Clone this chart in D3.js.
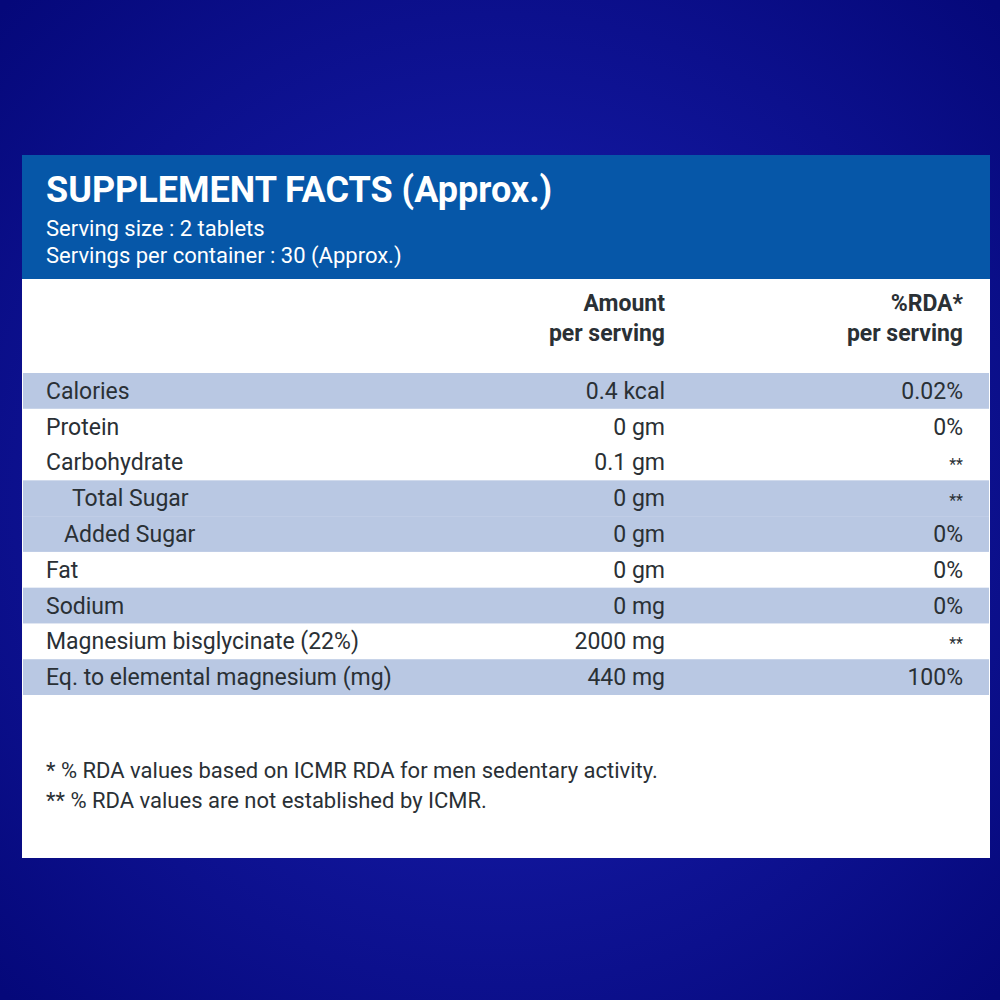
<!DOCTYPE html><html><head><meta charset="utf-8"><script src="https://cdn.jsdelivr.net/npm/d3@7"></script>
<style>body{margin:0}svg{display:block}</style></head><body><script>
const nutrients=["Calories","Protein","Carbohydrate","Total Sugar","Added Sugar","Fat","Sodium","Magnesium bisglycinate (22%)","Eq. to elemental magnesium (mg)"];
const amounts=["0.4 kcal","0 gm","0.1 gm","0 gm","0 gm","0 gm","0 mg","2000 mg","440 mg"];
const rda=["0.02%","0%","**","**","0%","0%","0%","**","100%"];
const indent=[0,0,0,26,18,0,0,0,0];
const shaded=[1,0,0,1,1,0,1,0,1];
const notes=["* % RDA values based on ICMR RDA for men sedentary activity.","** % RDA values are not established by ICMR."];
const W=1000,H=1000;
const svg=d3.select("body").append("svg").attr("width",W).attr("height",H);
const defs=svg.append("defs");
const g=defs.append("radialGradient").attr("id","bg").attr("cx","50%").attr("cy","50%").attr("r","70%");
g.append("stop").attr("offset","0%").attr("stop-color","#1c22b8");
g.append("stop").attr("offset","100%").attr("stop-color","#05087a");
svg.append("rect").attr("width",W).attr("height",H).attr("fill","url(#bg)");
svg.append("rect").attr("x",22).attr("y",155).attr("width",968).attr("height",703).attr("fill","#fff");
svg.append("rect").attr("x",22).attr("y",155).attr("width",968).attr("height",124).attr("fill","#0657a8");
const F="Roboto, 'Liberation Sans', sans-serif";
svg.append("text").attr("x",46).attr("y",202).attr("font-family",F).attr("font-weight","bold").attr("font-size",36).attr("fill","#fff").text("SUPPLEMENT FACTS (Approx.)");
svg.append("text").attr("x",46).attr("y",236).attr("font-family",F).attr("font-size",22).attr("fill","#fff").text("Serving size : 2 tablets");
svg.append("text").attr("x",46).attr("y",263).attr("font-family",F).attr("font-size",22).attr("fill","#fff").text("Servings per container : 30 (Approx.)");
const hdr=[["Amount","per serving",665],["%RDA*","per serving",963]];
hdr.forEach(h=>{svg.append("text").attr("x",h[2]).attr("y",311).attr("text-anchor","end").attr("font-family",F).attr("font-weight","bold").attr("font-size",23).attr("fill","#2a3035").text(h[0]);
svg.append("text").attr("x",h[2]).attr("y",341).attr("text-anchor","end").attr("font-family",F).attr("font-weight","bold").attr("font-size",23).attr("fill","#2a3035").text(h[1]);});
const y=d3.scaleBand().domain(d3.range(nutrients.length)).range([373,695]);
const rows=svg.selectAll("g.r").data(nutrients).join("g").attr("transform",(d,i)=>`translate(0,${y(i)})`);
rows.filter((d,i)=>shaded[i]).append("rect").attr("x",23).attr("width",966).attr("height",y.bandwidth()).attr("fill","#b9c8e3");
const T=(sel,x,anchor,f)=>sel.append("text").attr("x",x).attr("y",y.bandwidth()/2+8).attr("text-anchor",anchor).attr("font-family",F).attr("font-size",23).attr("fill","#2a3035").text(f);
rows.each(function(d,i){const s=d3.select(this);
T(s,46+indent[i],"start",d);T(s,665,"end",amounts[i]);T(s,963,"end",rda[i]).attr("font-size",rda[i]=="**"?16:23);});
notes.forEach((n,i)=>svg.append("text").attr("x",46).attr("y",778+i*30).attr("font-family",F).attr("font-size",22).attr("fill","#2a3035").text(n));
</script></body></html>
